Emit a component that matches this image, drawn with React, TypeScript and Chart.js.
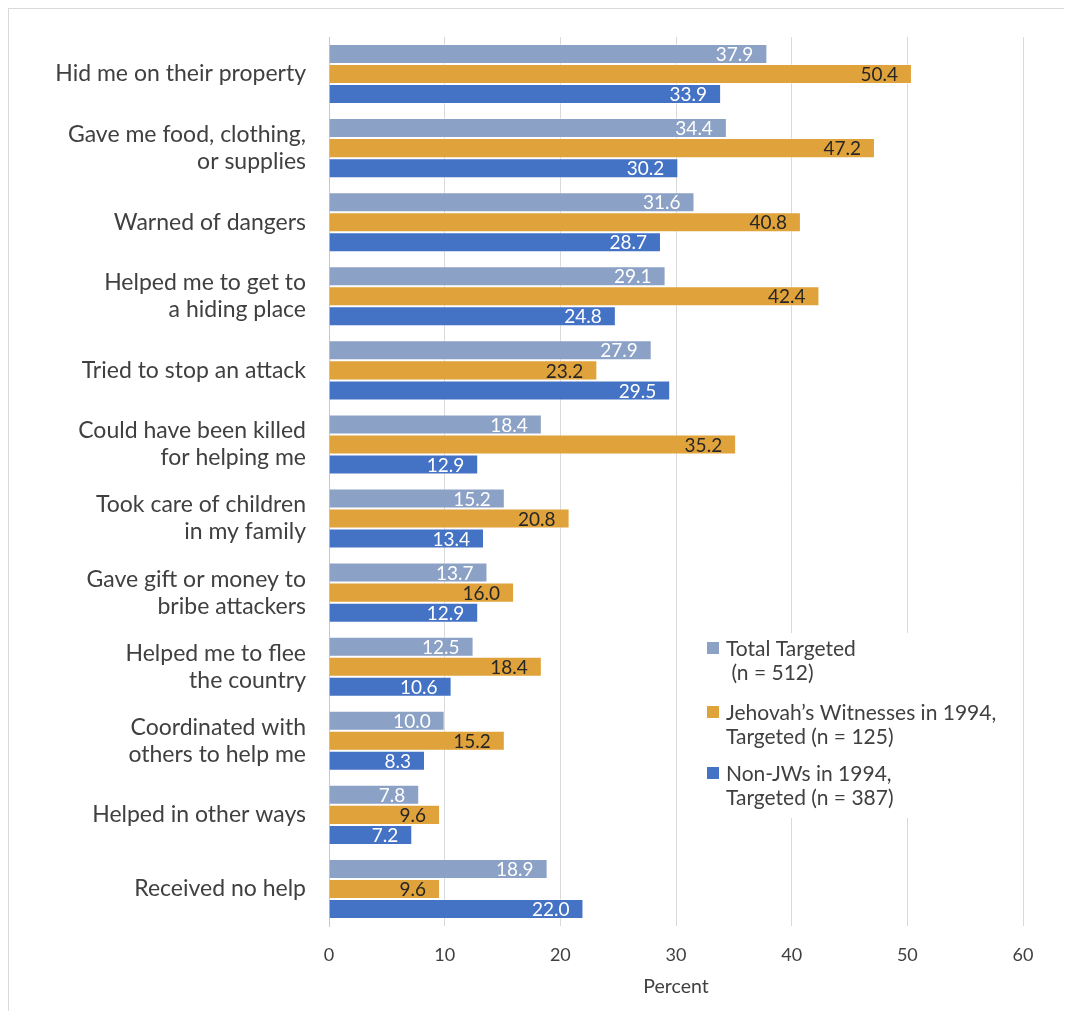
import React, { useEffect, useRef } from 'react';
import { Chart, registerables } from 'chart.js';

Chart.register(...registerables);

const FONT = 'Lato, "Noto Sans", sans-serif';

const categories: (string | string[])[] = [
  'Hid me on their property',
  ['Gave me food, clothing,', 'or supplies'],
  'Warned of dangers',
  ['Helped me to get to', 'a hiding place'],
  'Tried to stop an attack',
  ['Could have been killed', 'for helping me'],
  ['Took care of children', 'in my family'],
  ['Gave gift or money to', 'bribe attackers'],
  ['Helped me to flee', 'the country'],
  ['Coordinated with', 'others to help me'],
  'Helped in other ways',
  'Received no help',
];

const totalTargeted = [37.9, 34.4, 31.6, 29.1, 27.9, 18.4, 15.2, 13.7, 12.5, 10.0, 7.8, 18.9];
const jwTargeted = [50.4, 47.2, 40.8, 42.4, 23.2, 35.2, 20.8, 16.0, 18.4, 15.2, 9.6, 9.6];
const nonJwTargeted = [33.9, 30.2, 28.7, 24.8, 29.5, 12.9, 13.4, 12.9, 10.6, 8.3, 7.2, 22.0];

const seriesNames = [
  'Total Targeted (n = 512)',
  'Jehovah’s Witnesses in 1994, Targeted (n = 125)',
  'Non-JWs in 1994, Targeted (n = 387)',
];
const legendLines = [
  ['Total Targeted', ' (n = 512)'],
  ['Jehovah’s Witnesses in 1994,', 'Targeted (n = 125)'],
  ['Non-JWs in 1994,', 'Targeted (n = 387)'],
];

const xMin = 0;
const xMax = 60;
const xStep = 10;
const axisTitle = 'Percent';

const barColors = ['#8BA1C5', '#E0A23A', '#4472C4'];
const labelColors = ['#ffffff', '#262626', '#ffffff'];
const TEXT = '#404040';

const valueLabels = {
  id: 'valueLabels',
  afterDatasetsDraw(chart: any) {
    const ctx = chart.ctx;
    ctx.save();
    ctx.font = `19px ${FONT}`;
    ctx.textAlign = 'right';
    ctx.textBaseline = 'middle';
    chart.data.datasets.forEach((ds: any, i: number) => {
      const meta = chart.getDatasetMeta(i);
      ctx.fillStyle = labelColors[i];
      meta.data.forEach((el: any, j: number) => {
        ctx.fillText(Number(ds.data[j]).toFixed(1), el.x - 14, el.y + 1);
      });
    });
    ctx.restore();
  },
};

const boxLegend = {
  id: 'boxLegend',
  afterDatasetsDraw(chart: any) {
    const { ctx, chartArea } = chart;
    const left = chartArea.left + 368;
    const top = chartArea.top + 596;
    ctx.save();
    ctx.fillStyle = '#ffffff';
    ctx.fillRect(left, top, 319, 185);
    const firstY = [15, 79, 140];
    ctx.font = `21px ${FONT}`;
    ctx.textAlign = 'left';
    ctx.textBaseline = 'middle';
    legendLines.forEach((lines, i) => {
      const y = top + firstY[i];
      ctx.fillStyle = barColors[i];
      ctx.fillRect(left + 10, y - 6, 12, 12);
      ctx.fillStyle = TEXT;
      lines.forEach((t, k) => {
        ctx.fillText(t, left + 29, y + k * 24.5 + 1);
      });
    });
    ctx.restore();
  },
};

export default function App() {
  const ref = useRef<HTMLCanvasElement | null>(null);

  useEffect(() => {
    document.documentElement.style.overflow = 'hidden';
    document.body.style.overflow = 'hidden';
    if (!ref.current) return;
    const data = [totalTargeted, jwTargeted, nonJwTargeted];
    const chart = new Chart(ref.current, {
      type: 'bar',
      data: {
        labels: categories,
        datasets: data.map((d, i) => ({
          label: seriesNames[i],
          data: d,
          backgroundColor: barColors[i],
          borderColor: 'rgba(255,255,255,0.35)',
          borderWidth: 1,
          categoryPercentage: 0.81,
          barPercentage: 1,
        })),
      },
      options: {
        indexAxis: 'y',
        responsive: false,
        animation: false,
        layout: { padding: { top: 28, right: 65, bottom: 0, left: 0 } },
        plugins: {
          legend: { display: false },
          tooltip: { enabled: false },
        },
        scales: {
          x: {
            min: xMin,
            max: xMax,
            ticks: {
              stepSize: xStep,
              padding: 18,
              color: TEXT,
              font: { family: FONT, size: 18 },
            },
            grid: { color: '#d9d9d9', drawTicks: false, lineWidth: 1 },
            border: { display: false },
            title: {
              display: true,
              text: axisTitle,
              color: TEXT,
              font: { family: FONT, size: 19.5 },
              padding: { top: 0, bottom: 13 },
            },
            afterFit(scale: any) {
              scale.height = 85;
              scale.paddingLeft = 0;
              scale.paddingRight = 0;
            },
          },
          y: {
            ticks: {
              padding: 23,
              color: TEXT,
              font: { family: FONT, size: 23, lineHeight: 1.174 },
            },
            grid: { display: false, drawTicks: false },
            border: { display: true, color: '#c8c8c8', width: 1 },
            afterFit(scale: any) {
              scale.width = 320;
              scale.paddingTop = 0;
              scale.paddingBottom = 0;
            },
          },
        },
      },
      plugins: [valueLabels, boxLegend],
    });
    return () => chart.destroy();
  }, []);

  return (
    <div
      style={{
        width: 1080,
        height: 1003,
        borderLeft: '1px solid #d9d9d9',
        borderTop: '1px solid #d9d9d9',
        boxSizing: 'border-box',
        overflow: 'hidden',
      }}
    >
      <canvas ref={ref} width={1079} height={1002} style={{ display: 'block', width: 1079, height: 1002 }} />
    </div>
  );
}
